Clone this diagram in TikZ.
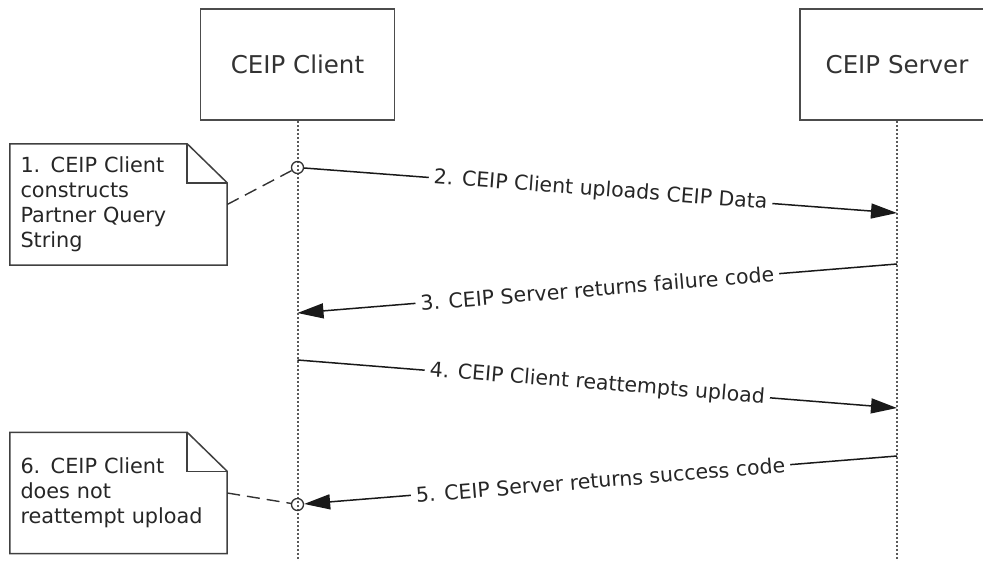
\documentclass[tikz,border=0pt]{standalone}
\usepackage{fontspec}
\setmainfont{DejaVu Sans}
\usetikzlibrary{arrows.meta}
\tikzset{
  actor/.style={
    draw=black!70, line width=1.6pt,
    minimum width=194pt, minimum height=111pt,
    font=\fontsize{24.5}{29}\selectfont, text=black!80,
  },
  lifeline/.style={
    draw=black!65, line width=2pt, dotted,
  },
  msg/.style={
    draw=black!90, line width=1.5pt,
  },
  tip/.style={
    -{Triangle[length=26pt, width=15pt]},
  },
  msgtext/.style={
    midway, sloped, fill=white, inner sep=5pt,
    font=\fontsize{20.5}{24.6}\selectfont, text=black!85,
  },
  note/.style={
    minimum width=217pt, minimum height=121pt,
    text width=196pt, align=left, inner xsep=10.5pt,
    font=\fontsize{20.8}{25}\selectfont, text=black!85,
  },
  notebox/.style={
    draw=black!75, line width=1.5pt, line join=miter,
  },
  ring/.style={
    circle, draw=black!80, line width=1.3pt,
    minimum size=12pt, inner sep=0pt,
  },
  tie/.style={
    draw=black!80, line width=1.4pt, dash pattern=on 13pt off 7pt,
  },
}

\begin{document}
\begin{tikzpicture}[x=1pt, y=-1pt]
\useasboundingbox (0,0) rectangle (983,561);

\node[actor] (client) at (297.5,64.5) {CEIP Client};
\node[actor] (server) at (897,64.5) {CEIP Server};
\foreach \who in {client,server}
  \draw[lifeline] (\who.south) -- (\who |- 0,561);

\node[ring] (r-1) at (client |- 0,167.5) {};
\node[ring] (r-2) at (client |- 0,504.5) {};

\coordinate (m-2) at (server |- 0,213);
\coordinate (m-3a) at (server |- 0,264);
\coordinate (m-3b) at (client |- 0,313);
\coordinate (m-4a) at (client |- 0,360);
\coordinate (m-4b) at (server |- 0,408);
\coordinate (m-5) at (server |- 0,456);

\draw[msg, tip] (r-1) -- (m-2)
  node[msgtext] {2. CEIP Client uploads CEIP Data};
\draw[msg, tip] (m-3a) -- (m-3b)
  node[msgtext] {3. CEIP Server returns failure code};
\draw[msg, tip] (m-4a) -- (m-4b)
  node[msgtext] {4. CEIP Client reattempts upload};
\draw[msg, tip] (m-5) -- (r-2)
  node[msgtext] {5. CEIP Server returns success code};

\node[note] (n-1) at (118.5,204.5)
  {1. CEIP Client\\constructs\\Partner Query\\String};
\node[note] (n-6) at (118.5,493)
  {6. CEIP Client\\does not\\reattempt upload};
\foreach \n in {n-1,n-6} {
  \draw[notebox] (\n.north west) -- ([xshift=-40pt]\n.north east)
    -- ([yshift=-39pt]\n.north east) -- (\n.south east)
    -- (\n.south west) -- cycle;
  \draw[notebox] ([xshift=-40pt]\n.north east)
    |- ([yshift=-39pt]\n.north east);
}
\draw[tie] (n-1.east) -- (r-1);
\draw[tie] (n-6.east) -- (r-2);
\end{tikzpicture}
\end{document}
